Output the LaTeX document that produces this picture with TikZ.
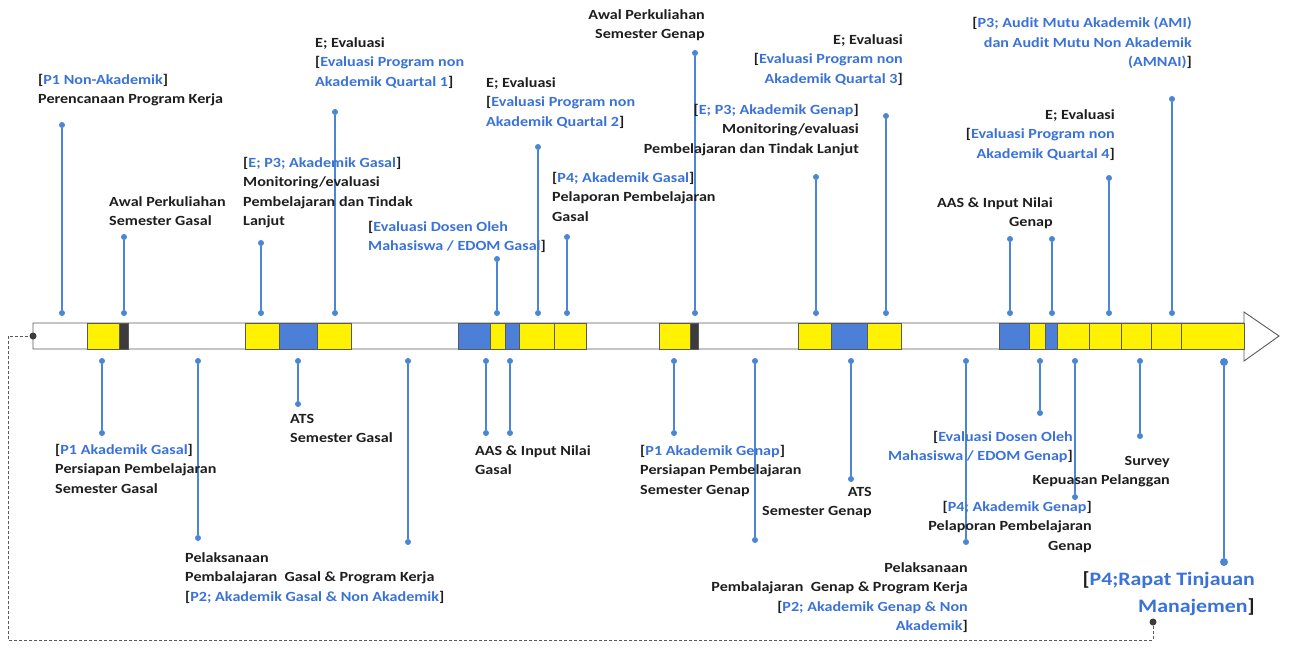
\documentclass[tikz,border=0pt]{standalone}
\usepackage{fontspec}
\setmainfont{Carlito}[FakeStretch=1.15]
\usepackage{xcolor}
\usepackage{tikz}
\definecolor{Ink}{HTML}{1E1E1E}
\definecolor{Azure}{HTML}{3A72D8}
\definecolor{Pin}{HTML}{4A86D4}
\definecolor{Lemon}{HTML}{FFF200}
\definecolor{Cobalt}{HTML}{4C80D8}
\definecolor{Coal}{HTML}{3C3C3C}
\definecolor{Rim}{HTML}{5A5A5A}
\newcommand{\bl}[1]{\textcolor{Azure}{#1}}

\begin{document}
\begin{tikzpicture}[x=1pt,y=-1pt,
  knob/.style={circle,fill=Pin,inner sep=0pt,minimum size=6pt},
  stem/.style={draw=Pin,line width=1.1pt},
  block/.style={draw=Rim,line width=0.9pt},
  txt/.style={font=\fontsize{14}{19.5}\selectfont\bfseries,text=Ink,inner sep=0pt},
  txtl/.style={txt,anchor=north west,align=left},
  txtr/.style={txt,anchor=north east,align=right},
  loopline/.style={draw=Rim,line width=1pt,dash pattern=on 3pt off 2pt}
]
\useasboundingbox (0,0) rectangle (1295,651);

\draw[block,fill=white] (33,323) -- (1244,323) -- (1244,312) -- (1279,336)
  -- (1244,361) -- (1244,349) -- (33,349) -- cycle;
\foreach \a/\b/\c in {87/119/Lemon,119/128/Coal,245/279/Lemon,279/317/Cobalt,
    317/351/Lemon,458/490/Cobalt,490/505/Lemon,505/519/Cobalt,519/554/Lemon,
    554/586/Lemon,659/690/Lemon,690/698/Coal,798/831/Lemon,831/867/Cobalt,
    867/901/Lemon,999/1029/Cobalt,1029/1045/Lemon,1045/1057/Cobalt,
    1057/1089/Lemon,1089/1121/Lemon,1121/1151/Lemon,1151/1181/Lemon,1181/1244/Lemon}
  \draw[block,fill=\c] (\a,323) rectangle (\b,349);

\foreach \n/\x/\y in {1/62/125,2/124/237,3/261/243,4/335/112,5/497/259,6/538/147,
    7/567/237,8/695/53,9/816/177,10/886/116,11/1010/239,12/1052/239,13/1109/178,14/1172/99}{
  \node[knob] (up\n) at (\x,\y) {};
  \node[knob] (upbar\n) at (\x,313) {};
  \draw[stem] (up\n) -- (upbar\n);
}
\foreach \n/\x/\y in {1/102/433,2/198/538,3/298/404,4/408/542,5/486/433,6/510/433,
    7/674/433,8/755/540,9/851/479,10/966/542,11/1040/413,12/1075/497,13/1140/436}{
  \node[knob] (dnbar\n) at (\x,361) {};
  \node[knob] (dn\n) at (\x,\y) {};
  \draw[stem] (dnbar\n) -- (dn\n);
}
\node[knob,minimum size=8pt] (dnbar14) at (1224,362) {};
\node[knob,minimum size=8pt] (dn14) at (1224,562) {};
\draw[stem,line width=2.4pt] (dnbar14) -- (dn14);

\node[circle,fill=Coal,inner sep=0pt,minimum size=7pt] (start) at (33,336) {};
\node[circle,fill=Coal,inner sep=0pt,minimum size=7pt] (back) at (1153,622) {};
\coordinate (corner) at (8,640);
\draw[loopline] (back) |- (corner) |- (start);

\node[txtl] (l1) at (38,74) {{[}\bl{P1 Non-Akademik}]\\Perencanaan Program Kerja};
\node[txtl] (l2) at (109,196) {Awal Perkuliahan\\Semester Gasal};
\node[txtl] (l3) at (243,157) {{[}\bl{E; P3; Akademik Gasal}]\\Monitoring/evaluasi\\Pembelajaran dan Tindak\\Lanjut};
\node[txtl] (l4) at (315,37) {E; Evaluasi\\{[}\bl{Evaluasi Program non}\\\bl{Akademik Quartal 1}]};
\node[txtl] (l5) at (368,221) {{[}\bl{Evaluasi Dosen Oleh}\\\bl{Mahasiswa / EDOM Gasal}]};
\node[txtl] (l6) at (486,77) {E; Evaluasi\\{[}\bl{Evaluasi Program non}\\\bl{Akademik Quartal 2}]};
\node[txtl] (l7) at (552,172) {{[}\bl{P4; Akademik Gasal}]\\Pelaporan Pembelajaran\\Gasal};
\node[txtr] (l8) at (705,9) {Awal Perkuliahan\\Semester Genap};
\node[txtr] (l9) at (859,104) {{[}\bl{E; P3; Akademik Genap}]\\Monitoring/evaluasi\\Pembelajaran dan Tindak Lanjut};
\node[txtr] (l10) at (903,34) {E; Evaluasi\\{[}\bl{Evaluasi Program non}\\\bl{Akademik Quartal 3}]};
\node[txtr] (l11) at (1053,197) {AAS \& Input Nilai\\Genap};
\node[txtr] (l12) at (1115,109) {E; Evaluasi\\{[}\bl{Evaluasi Program non}\\\bl{Akademik Quartal 4}]};
\node[txtr] (l13) at (1192,17) {{[}\bl{P3; Audit Mutu Akademik (AMI)}\\\bl{dan Audit Mutu Non Akademik}\\\bl{(AMNAI)}]};

\node[txtl] (m1) at (55,444) {{[}\bl{P1 Akademik Gasal}]\\Persiapan Pembelajaran\\Semester Gasal};
\node[txtl] (m2) at (185,552) {Pelaksanaan\\Pembalajaran\ \ Gasal \& Program Kerja\\{[}\bl{P2; Akademik Gasal \& Non Akademik}]};
\node[txtl] (m3) at (290,414) {ATS\\Semester Gasal};
\node[txtl] (m4) at (475,445) {AAS \& Input Nilai\\Gasal};
\node[txtl] (m5) at (640,445) {{[}\bl{P1 Akademik Genap}]\\Persiapan Pembelajaran\\Semester Genap};
\node[txtr] (m6) at (968,562) {Pelaksanaan\\Pembalajaran\ \ Genap \& Program Kerja\\{[}\bl{P2; Akademik Genap \& Non}\\\bl{Akademik}]};
\node[txtr] (m7) at (872,487) {ATS\\Semester Genap};
\node[txtr] (m8) at (1073,431) {{[}\bl{Evaluasi Dosen Oleh}\\\bl{Mahasiswa / EDOM Genap}]};
\node[txtr] (m9) at (1092,501) {{[}\bl{P4; Akademik Genap}]\\Pelaporan Pembelajaran\\Genap};
\node[txtr] (m10) at (1170,456) {Survey\\Kepuasan Pelanggan};
\node[txtr,font=\fontsize{19}{27}\selectfont\bfseries] (m11) at (1255,571) {{[}\bl{P4;Rapat Tinjauan}\\\bl{Manajemen}]};
\end{tikzpicture}
\end{document}
